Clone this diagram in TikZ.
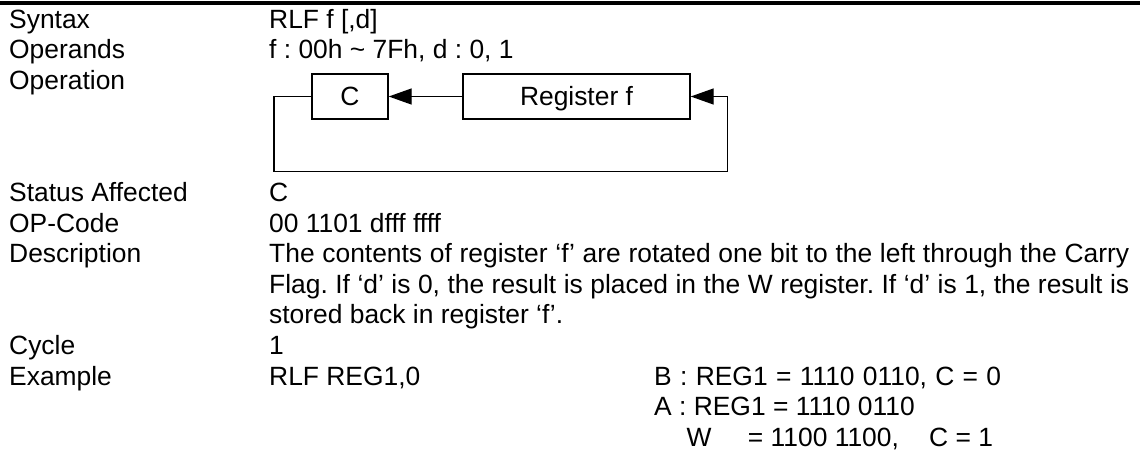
\documentclass[tikz,border=0pt]{standalone}
\usepackage{fontspec}
\setmainfont{Liberation Sans}
\usetikzlibrary{arrows.meta}
\begin{document}
\frenchspacing
\begin{tikzpicture}[x={(1pt,0)},y={(0,-1pt)},
  txt/.style={anchor=base west,inner sep=0pt,font=\fontsize{26.4}{30.6}\selectfont},
  regbox/.style={draw,line width=1.4pt,minimum height=45pt,inner sep=0pt,
    text height=18.9pt,text depth=0pt,font=\fontsize{26.4}{30.6}\selectfont},
  conn/.style={line width=1.4pt},
  arr/.style={conn,-{Triangle[length=23pt,width=16pt]}}]
\useasboundingbox (0,0) rectangle (1140,451);
\fill (0,0.5) rectangle (1140,4.5);
% left column
\node[txt] (l1) at (9,28) {Syntax};
\node[txt] (l2) at (9,58.6) {Operands};
\node[txt] (l3) at (9,89.2) {Operation};
\node[txt] (l4) at (9,201.5) {Status Affected};
\node[txt] (l5) at (9,232.1) {OP-Code};
\node[txt] (l6) at (9,262.7) {Description};
\node[txt] (l7) at (9,354.5) {Cycle};
\node[txt] (l8) at (9,385.1) {Example};
% right column
\node[txt] (r1) at (269,28) {RLF f [,d]};
\node[txt] (r2) at (269,58.6) {f : 00h \textasciitilde{} 7Fh, d : 0, 1};
\node[txt] (r4) at (269,201.5) {C};
\node[txt] (r5) at (269,232.1) {00 1101 dfff ffff};
\node[txt] (r6a) at (269,262.7) {\makebox[860pt][s]{The contents of register ‘f’ are rotated one bit to the left through the Carry}};
\node[txt] (r6b) at (269,293.3) {\makebox[860pt][s]{Flag. If ‘d’ is 0, the result is placed in the W register. If ‘d’ is 1, the result is}};
\node[txt] (r6c) at (269,323.9) {stored back in register ‘f’.};
\node[txt] (r7) at (269,354.5) {1};
\node[txt] (r8) at (269,385.1) {RLF REG1,0};
\node[txt] (e1) at (654,385.1) {\makebox[347pt][s]{B : REG1 = 1110 0110, C = 0}};
\node[txt] (e2) at (654,415.7) {A : REG1 = 1110 0110};
\node[txt] (e3) at (686.5,446.3) {W\hspace{36.3pt}= 1100 1100,\hspace{30.4pt}C = 1};
% diagram
\node[regbox,minimum width=76pt] (c) at (350,96.5) {C};
\node[regbox,minimum width=227pt] (reg) at (576.5,96.5) {Register f};
\coordinate (lb) at (274,171.5);
\coordinate (rb) at (727.5,171.5);
\draw[arr] (reg.west) -- (c.east);
\draw[arr] (c.west) -| (lb) -- (rb) |- (reg.east);
\end{tikzpicture}
\end{document}
